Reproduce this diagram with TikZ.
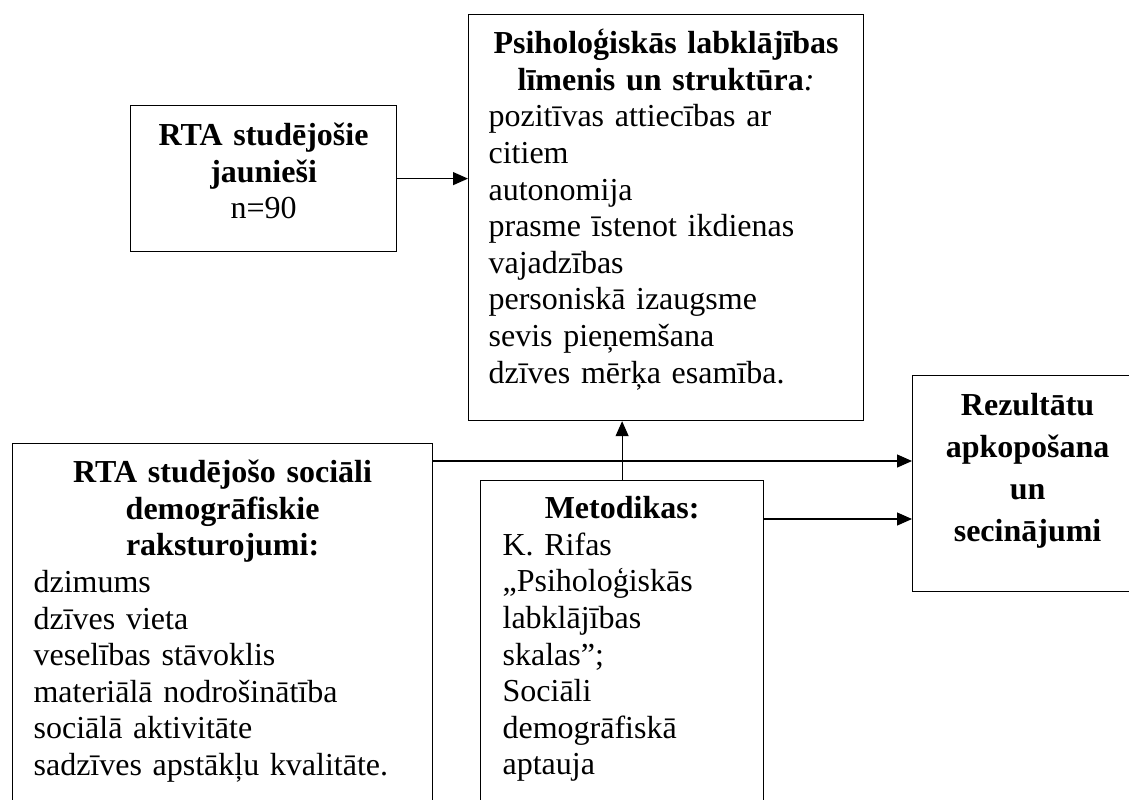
\documentclass[tikz,border=0pt]{standalone}
\usepackage{fontspec}
\setmainfont{Liberation Serif}
\usetikzlibrary{calc}
\usetikzlibrary{arrows.meta}

\begin{document}
\begin{tikzpicture}[x=0.5pt,y=-0.5pt,
    box/.style={draw,line width=0.6pt,anchor=north west,inner ysep=0pt,font=\fontsize{16}{18.3}\selectfont},
    arr/.style={line width=0.6pt,-{Triangle[length=7.5pt,width=6.5pt]}}]
            \useasboundingbox (0,0) rectangle (1129,799);
            \node[box,inner xsep=3pt,text width=127pt,align=center,text height=20pt,text depth=53pt] (jaun) at (130,105) {\textbf{RTA studējošie}\\ \textbf{jaunieši}\\ n=90};
            \node[box,inner xsep=10pt,text width=177.5pt,text height=19.5pt,text depth=183.5pt] (labkl) at (468,14) {{\centering\bfseries Psiholoģiskās labklājības\\ līmenis un struktūra\mdseries\textit{:}\par}\raggedright pozitīvas attiecības ar\\ citiem\\ autonomija\\ prasme īstenot ikdienas\\ vajadzības\\ personiskā izaugsme\\ sevis pieņemšana\\ dzīves mērķa esamība.};
            \node[box,inner xsep=10.5pt,text width=189pt,text height=19.5pt,text depth=174pt] (soc) at (12,443) {{\centering\bfseries RTA studējošo sociāli\\ demogrāfiskie\\ raksturojumi:\par}\raggedright dzimums\\ dzīves vieta\\ veselības stāvoklis\\ materiālā nodrošinātība\\ sociālā aktivitāte\\ sadzīves apstākļu kvalitāte.};
            \node[box,inner xsep=11pt,text width=119.5pt,text height=19pt,text depth=156pt] (met) at (480,480) {{\centering\bfseries Metodikas:\par}\raggedright K. Rifas\\ „Psiholoģiskās\\ labklājības\\ skalas”;\\ Sociāli\\ demogrāfiskā\\ aptauja};
            \node[box,inner xsep=5pt,text width=105pt,align=center,text height=20pt,text depth=88pt,font=\fontsize{16}{21}\selectfont\bfseries] (rez) at (912,375) {Rezultātu\\ apkopošana\\ un\\ secinājumi};
            % bultas
            \coordinate (socout) at ($(soc.north east)+(0,18)$);
            \coordinate (metout) at ($(met.north east)+(0,39)$);
            \draw[arr] (jaun.east) -- (jaun.east -| labkl.west);
            \draw[arr] (met.north) -- (met.north |- labkl.south);
            \draw[arr] (socout) -- (socout -| rez.west);
            \draw[arr] (metout) -- (metout -| rez.west);
        \end{tikzpicture}
\end{document}
